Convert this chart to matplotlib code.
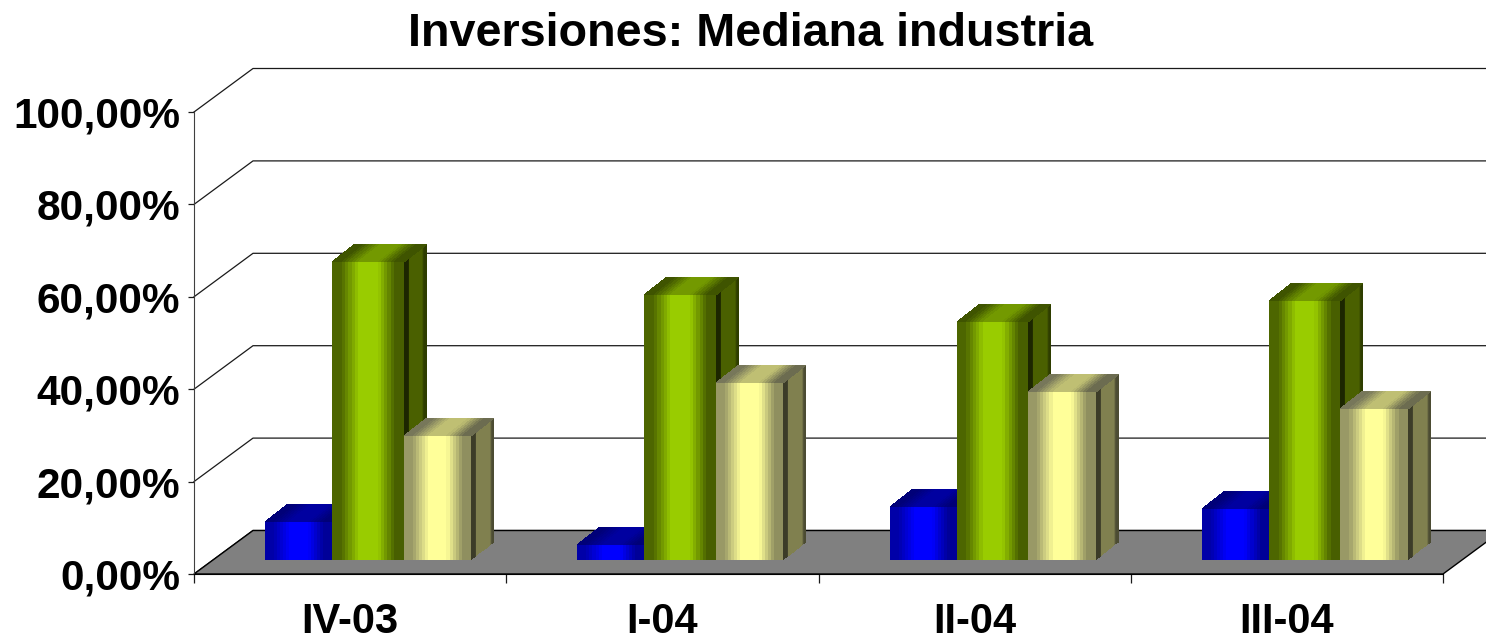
#!/usr/bin/env python3
"""Inversiones: Mediana industria - fake 3D bars with stepped shading."""

import numpy as np
import matplotlib
matplotlib.use('Agg')
import matplotlib.pyplot as plt
from matplotlib.colors import LinearSegmentedColormap
from matplotlib.patches import Polygon

# Data
categories = ['IV-03', 'I-04', 'II-04', 'III-04']
blue_values = [8.3, 3.2, 11.5, 11.0]
green_values = [64.5, 57.4, 51.5, 56.1]
yellow_values = [26.8, 38.3, 36.4, 32.6]
y_ticks = [0, 20, 40, 60, 80, 100]
y_tick_labels = ['0,00%', '20,00%', '40,00%', '60,00%', '80,00%', '100,00%']

# Pixel scales of the reference
PX_X = 1 / 312.25
PX_Y = 100 / 462

plt.rcParams['font.family'] = ['Liberation Sans', 'DejaVu Sans']

WALL_DX, WALL_DY = 59 * PX_X, 43.5 * PX_Y
BAR_DX, BAR_DY = 23 * PX_X, 18 * PX_Y
BASE_DX, BASE_DY = 71 * PX_X, 14 * PX_Y
BAR_EDGES = [0, 67 * PX_X, 138.5 * PX_X, 206 * PX_X]
N_STEPS = 22


def ramp(dark_left, bright, dark_right):
    """Dark edges, a slow climb to a bright band and back down."""
    stops = [(0, dark_left), (0.12, dark_left), (0.38, bright), (0.64, bright),
             (0.88, dark_right), (1, dark_right)]
    return LinearSegmentedColormap.from_list('face', stops)


def side_ramp(edge, mid, end):
    stops = [(0, edge), (0.2, edge), (0.24, mid), (0.82, mid), (0.9, end), (1, end)]
    return LinearSegmentedColormap.from_list('side', stops)


SHADES = {
    'blue': dict(
        front=ramp('#0000a8', '#0000ff', '#000098'),
        top=ramp('#000078', '#0000a0', '#000078'),
        side=side_ramp('#000040', '#000080', '#000050'),
    ),
    'green': dict(
        front=ramp('#4d6600', '#99cc00', '#485f00'),
        top=ramp('#3f5400', '#739900', '#3f5400'),
        side=side_ramp('#1c2600', '#4a6000', '#2e3d00'),
    ),
    'yellow': dict(
        front=ramp('#999966', '#ffff99', '#8f8f5f'),
        top=ramp('#77775a', '#bfbf73', '#6c6c50'),
        side=side_ramp('#3c3c28', '#80804f', '#4c4c33'),
    ),
}


def draw_face(ax, p00, p10, p01, p11, cmap, zorder):
    """Quad with colour steps going from the p00-p01 edge to the p10-p11 edge."""
    t = np.linspace(0, 1, N_STEPS + 1)
    X = np.array([p00[0] + t * (p10[0] - p00[0]), p01[0] + t * (p11[0] - p01[0])])
    Y = np.array([p00[1] + t * (p10[1] - p00[1]), p01[1] + t * (p11[1] - p01[1])])
    C = (t[:-1] + t[1:]).reshape(1, -1) / 2
    ax.pcolormesh(X, Y, C, cmap=cmap, vmin=0, vmax=1, shading='flat',
                  zorder=zorder, linewidth=0, antialiased=False)


def draw_bar(ax, x0, x1, value, shades, zorder):
    y0 = BASE_DY
    y1 = BASE_DY + value
    draw_face(ax, (x1, y0), (x1 + BAR_DX, y0 + BAR_DY),
              (x1, y1), (x1 + BAR_DX, y1 + BAR_DY), shades['side'], zorder)
    draw_face(ax, (x0, y1), (x1, y1),
              (x0 + BAR_DX, y1 + BAR_DY), (x1 + BAR_DX, y1 + BAR_DY), shades['top'], zorder)
    draw_face(ax, (x0, y0), (x1, y0), (x0, y1), (x1, y1), shades['front'], zorder + 0.1)


def main():
    fig = plt.figure(figsize=(14.86, 6.40), dpi=100, facecolor='white')
    ax = fig.add_axes([194 / 1486, 1 - 574 / 640, 1292 / 1486, 506 / 640])
    ax.set_xlim(0, 1292 * PX_X)
    ax.set_ylim(0, 506 * PX_Y)
    ax.patch.set_visible(False)

    # Back wall grid
    for tick in y_ticks:
        ax.plot([0, WALL_DX, 1292 * PX_X], [tick, tick + WALL_DY, tick + WALL_DY],
                color='#1a1a1a', lw=0.9, zorder=1, clip_on=False)

    # Floor
    floor = Polygon([(0, 0), (len(categories), 0),
                     (len(categories) + WALL_DX, WALL_DY), (WALL_DX, WALL_DY)],
                    closed=True, facecolor='#808080', edgecolor='black', lw=1.0, zorder=2)
    ax.add_patch(floor)

    # Bars
    for i in range(len(categories)):
        values = [blue_values[i], green_values[i], yellow_values[i]]
        for j, name in enumerate(['blue', 'green', 'yellow']):
            x0 = i + BASE_DX + BAR_EDGES[j]
            x1 = i + BASE_DX + BAR_EDGES[j + 1]
            draw_bar(ax, x0, x1, values[j], SHADES[name], 3 + j)

    # Axes
    for side in ['top', 'right']:
        ax.spines[side].set_visible(False)
    ax.spines['left'].set_bounds(0, 100)
    ax.spines['left'].set_color('#404040')
    ax.spines['bottom'].set_bounds(0, len(categories))
    ax.spines['bottom'].set_zorder(8)
    ax.set_yticks(y_ticks)
    ax.set_yticklabels(y_tick_labels, fontsize=30.5, fontweight='bold')
    ax.tick_params(axis='y', length=4.3, width=0.9, pad=5.5, color='#1a1a1a')
    ax.set_xticks(range(len(categories) + 1))
    ax.set_xticklabels([])
    ax.tick_params(axis='x', which='major', length=6.5, width=0.9, color='#1a1a1a')
    ax.set_xticks(np.arange(len(categories)) + 0.5, minor=True)
    ax.set_xticklabels(categories, minor=True, fontsize=30, fontweight='bold')
    ax.tick_params(axis='x', which='minor', length=0, pad=20.5)

    fig.text(751 / 1486, 1 - 34 / 640, 'Inversiones: Mediana industria',
             ha='center', va='center', fontsize=33.7, fontweight='bold')

    fig.savefig('out.png', dpi=100, facecolor='white')
    plt.close(fig)


if __name__ == '__main__':
    main()
